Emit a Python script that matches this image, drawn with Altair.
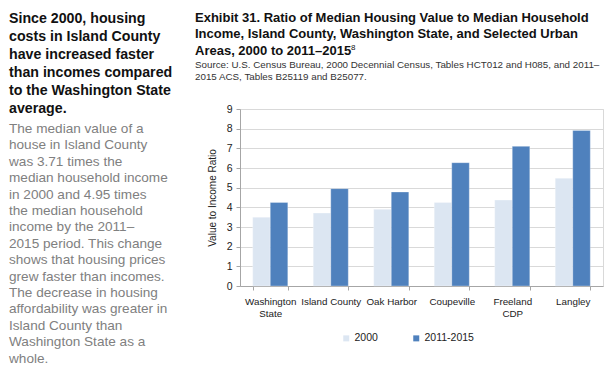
import altair as alt
import pandas as pd

categories = ["Washington State", "Island County", "Oak Harbor", "Coupeville", "Freeland CDP", "Langley"]
cat_labels = [["Washington", "State"], ["Island County"], ["Oak Harbor"], ["Coupeville"], ["Freeland", "CDP"], ["Langley"]]
series = ["2000", "2011-2015"]
values_2000 = [3.50, 3.71, 3.90, 4.25, 4.37, 5.48]
values_2015 = [4.25, 4.95, 4.78, 6.27, 7.10, 7.91]
y_ticks = [0, 1, 2, 3, 4, 5, 6, 7, 8, 9]

headline = ["Since 2000, housing", "costs in Island County", "have increased faster",
            "than incomes compared", "to the Washington State", "average."]
body = ["The median value of a", "house in Island County", "was 3.71 times the",
        "median household income", "in 2000 and 4.95 times", "the median household",
        "income by the 2011\u2013", "2015 period. This change", "shows that housing prices",
        "grew faster than incomes.", "The decrease in housing", "affordability was greater in",
        "Island County than", "Washington State as a", "whole."]
title_lines = ["Exhibit 31. Ratio of Median Housing Value to Median Household",
               "Income, Island County, Washington State, and Selected Urban",
               "Areas, 2000 to 2011\u20132015"]
source_lines = ["Source:  U.S. Census Bureau, 2000 Decennial Census, Tables HCT012 and H085, and 2011\u2013",
                "2015 ACS, Tables B25119 and B25077."]

rows = []
for c, a, b in zip(categories, values_2000, values_2015):
    rows.append({"area": c, "period": series[0], "ratio": a})
    rows.append({"area": c, "period": series[1], "ratio": b})
df = pd.DataFrame(rows)

label_expr = ("{" + ",".join(
    f"'{c}': [{','.join(repr(p) for p in l)}]" for c, l in zip(categories, cat_labels)
) + "}[datum.value]")

FONT = "Liberation Sans"

bars = alt.Chart(df).mark_bar(stroke="#ffffff", strokeOpacity=0.5, strokeWidth=0.6).encode(
    x=alt.X("area:N", sort=categories, title=None,
            scale=alt.Scale(paddingInner=0.42, paddingOuter=0.21),
            axis=alt.Axis(labelExpr=label_expr, labelAngle=0, tickBand="extent",
                          domainColor="#a6a6a6", tickColor="#a6a6a6", tickSize=4,
                          labelFont=FONT, labelFontSize=9.8, labelColor="#222222",
                          labelPadding=6, labelLineHeight=12.5, grid=False)),
    xOffset=alt.XOffset("period:N", sort=series, scale=alt.Scale(paddingInner=0, paddingOuter=0)),
    y=alt.Y("ratio:Q", title="Value to Income Ratio",
            scale=alt.Scale(domain=[0, 9], nice=False),
            axis=alt.Axis(values=y_ticks, domainColor="#a6a6a6", tickColor="#a6a6a6", tickSize=4,
                          gridColor="#d9d9d9", labelFont=FONT, labelFontSize=10.5,
                          labelColor="#222222", labelPadding=4,
                          titleFont=FONT, titleFontSize=10, titleFontWeight="normal",
                          titleColor="#222222", titlePadding=9)),
    color=alt.Color("period:N", sort=series, title=None,
                    scale=alt.Scale(domain=series, range=["#dce6f2", "#4f81bd"]),
                    legend=alt.Legend(orient="none", direction="horizontal",
                                      legendX=101, legendY=224,
                                      symbolType="square", symbolSize=36, symbolStrokeWidth=0,
                                      labelFont=FONT, labelFontSize=10.5, labelColor="#222222",
                                      columnPadding=33, labelOffset=3)),
)

def text_block(lines, x, y, size, weight, color, lh, font):
    return alt.Chart(pd.DataFrame({"t": [0]})).mark_text(
        align="left", baseline="middle", font=font, fontSize=size, fontWeight=weight,
        color=color, lineHeight=lh
    ).encode(x=alt.value(x), y=alt.value(y), text=alt.value(lines))

# view origin is at (240, 109) in page coordinates
head = text_block(headline, -231, 19 - 109, 14.2, "bold", "#111111", 18, FONT)
bod = text_block(body, -231, 129 - 109, 13.6, "normal", "#808080", 16.4, FONT)
ttl = text_block(title_lines, -45, 18 - 109, 13, "bold", "#111111", 16.3, FONT)
sup = alt.Chart(pd.DataFrame({"t": [0]})).mark_text(
    align="left", baseline="middle", font=FONT, fontSize=8, color="#111111"
).encode(x=alt.value(111), y=alt.value(48 - 109), text=alt.value("8"))
src = text_block(source_lines, -45, 65 - 109, 9.8, "normal", "#333333", 11.7, FONT)

chart = alt.layer(bars, head, bod, ttl, sup, src).properties(
    width=363, height=177,
    padding={"left": 232, "top": 101, "right": 5, "bottom": 80},
    autosize=alt.AutoSizeParams(type="none"),
).configure_view(stroke="#d9d9d9", strokeWidth=1)

chart.save("out.html", embed_options={"renderer": "svg", "actions": False})
